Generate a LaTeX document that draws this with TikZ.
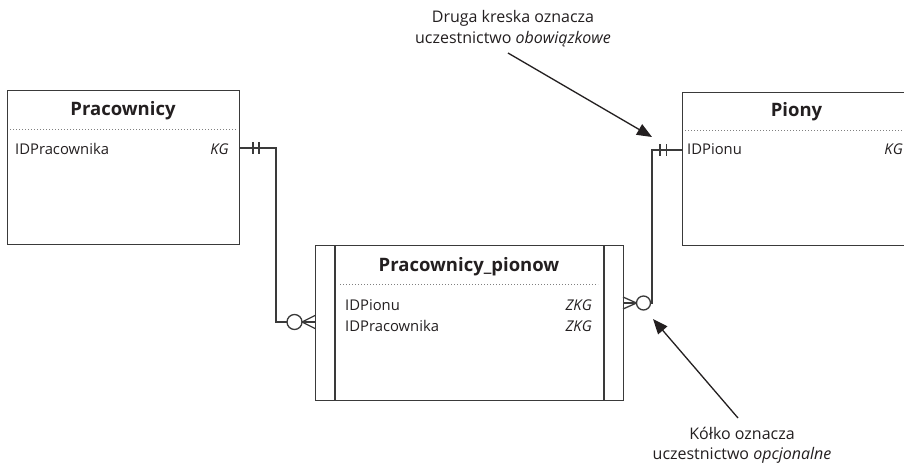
\documentclass[tikz,border=0pt]{standalone}
\usepackage{fontspec}
\setmainfont{Open Sans}
\usetikzlibrary{arrows.meta}
\definecolor{ln}{HTML}{3A3A3A}
\definecolor{tx}{HTML}{231F20}
\begin{document}
\begin{tikzpicture}[x=1pt,y=-1pt,
 box/.style={draw=ln, line width=1.4pt, inner sep=0pt, anchor=north west},
 dotl/.style={draw=gray, line width=0.9pt, dash pattern=on 1pt off 2pt},
 ttl/.style={anchor=base, font=\fontsize{18.5}{22}\selectfont\bfseries, inner sep=0pt, text=tx},
 fld/.style={anchor=base west, font=\fontsize{14.8}{18}\selectfont, inner sep=0pt, text=tx},
 key/.style={anchor=base east, font=\fontsize{14.8}{18}\selectfont\itshape, inner sep=0pt, text=tx},
 ann/.style={align=center, inner sep=0pt, anchor=base, text=tx},
 rel/.style={draw=ln, line width=1.3pt},
 note/.style={draw=tx, line width=1.3pt, -{Triangle[length=15pt,width=12pt]}},
]
\path[use as bounding box] (0,0) rectangle (904,464);
\fill[white] (0,0) rectangle (904,464);
\begin{scope}
\clip (0,0) rectangle (904,464);
% Pracownicy
\node[box, minimum width=232pt, minimum height=154pt] (prac) at (7,90) {};
\node[ttl] (pracT) at (123,115) {Pracownicy};
\draw[dotl] (10,129) -- (237,129);
\node[fld] (pracF) at (15,154) {IDPracownika};
\node[key] (pracK) at (229,154) {KG};
% Piony
\node[box, minimum width=230.5pt, minimum height=153.5pt] (pion) at (681.5,91.5) {};
\node[ttl] (pionT) at (796.5,116) {Piony};
\draw[dotl] (685,130.5) -- (910,130.5);
\node[fld] (pionF) at (687,154) {IDPionu};
\node[key] (pionK) at (903,154) {KG};
% Pracownicy_pionow
\node[box, minimum width=308pt, minimum height=155pt] (asoc) at (315,245) {};
\draw[ln, line width=1.4pt] (335,245) -- (335,400) (604,245) -- (604,400);
\node[ttl] (asocT) at (469,271) {Pracownicy\_pionow};
\draw[dotl] (340,284) -- (598,284);
\node[fld] (asocF1) at (345,310) {IDPionu};
\node[key] (asocK1) at (592,310) {ZKG};
\node[fld] (asocF2) at (345,331.5) {IDPracownika};
\node[key] (asocK2) at (592,331.5) {ZKG};
% connection points
\coordinate (pa) at (239,148);
\coordinate (ra) at (315,322);
\coordinate (rb) at (623,303);
\coordinate (pb) at (681.5,150);
% left relationship
\draw[rel] (pa) -- (276,148) |- (ra);
\draw[rel] (253,142) -- (253,154) (259,142) -- (259,154);
\draw[rel, fill=white] (294.5,322) circle[radius=7.5pt];
\draw[rel] (302,322) -- (315,315.5) (302,322) -- (315,328.5);
% right relationship
\draw[rel] (rb) -- (652,303) |- (pb);
\draw[rel] (660,144) -- (660,156) (666.5,144) -- (666.5,156);
\draw[rel, fill=white] (643.5,303) circle[radius=7pt];
\draw[rel] (636.5,303) -- (623,297) (636.5,303) -- (623,309);
% annotations
\node[ann, font=\fontsize{16}{21}\selectfont] (n1) at (513,43) {Druga kreska oznacza\\uczestnictwo \textit{obowiązkowe}};
\node[ann, font=\fontsize{16}{19.5}\selectfont] (n2) at (742,459) {Kółko oznacza\\uczestnictwo \textit{opcjonalne}};
\coordinate (t1) at (508,53);
\coordinate (h1) at (652,137);
\coordinate (t2) at (738,418);
\coordinate (h2) at (653,319);
\draw[note] (t1) -- (h1);
\draw[note] (t2) -- (h2);
\end{scope}
\end{tikzpicture}
\end{document}
